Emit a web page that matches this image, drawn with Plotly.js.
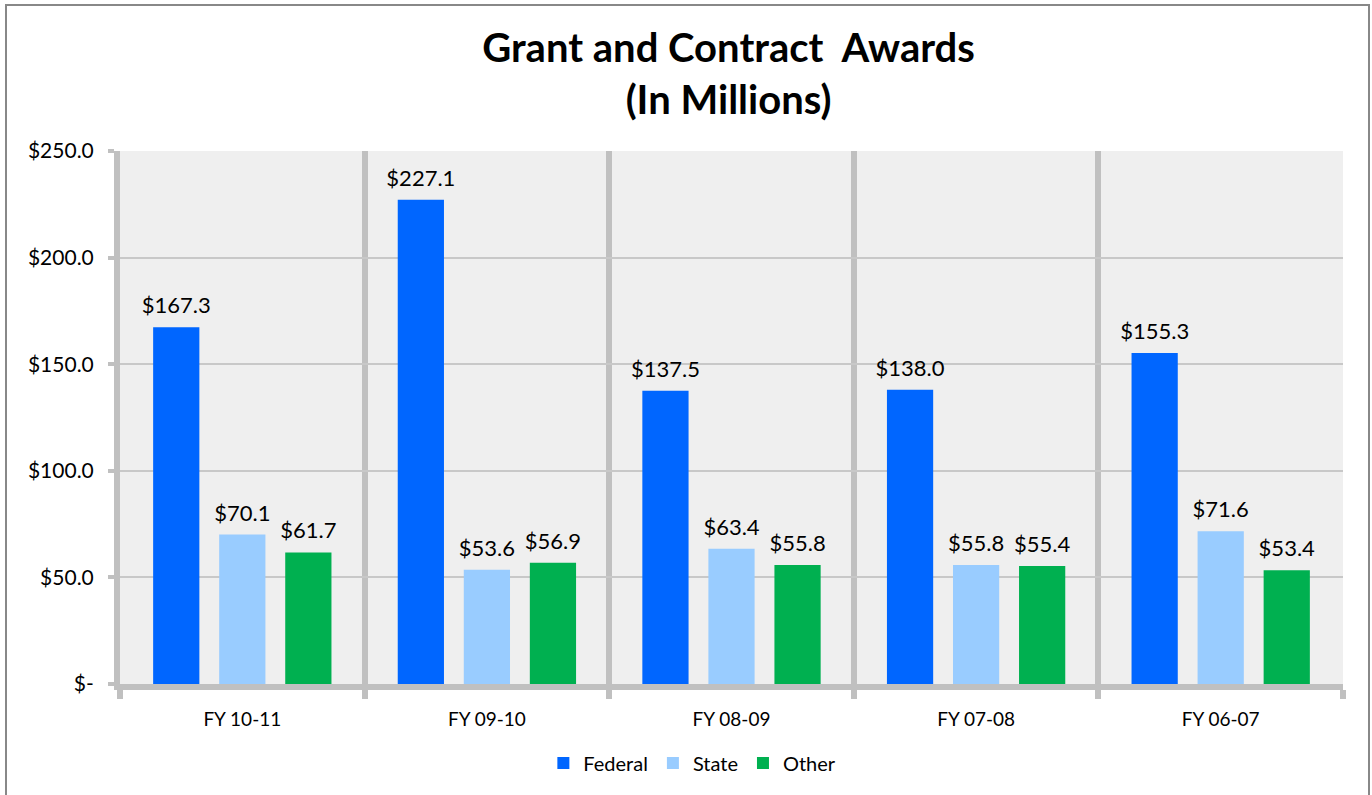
<!DOCTYPE html>
<html>
<head>
<meta charset="utf-8">
<script src="https://cdn.plot.ly/plotly-3.0.1.min.js"></script>
<style>html,body{margin:0;padding:0;background:#fff;}#chart{width:1372px;height:795px;}</style>
</head>
<body>
<div id="chart"></div>
<script>
const categories = ["FY 10-11", "FY 09-10", "FY 08-09", "FY 07-08", "FY 06-07"];
const federal = [167.3, 227.1, 137.5, 138.0, 155.3];
const state = [70.1, 53.6, 63.4, 55.8, 71.6];
const other = [61.7, 56.9, 55.8, 55.4, 53.4];
const yTickVals = [0, 50, 100, 150, 200, 250];
const yTickText = ["$-", "$50.0", "$100.0", "$150.0", "$200.0", "$250.0"];

const FONT = "Lato, 'Open Sans', sans-serif";
function bar(name, y, color) {
  return {
    type: "bar", name: name, x: categories, y: y,
    marker: {color: color},
    hoverinfo: "x+y"
  };
}
function labels(name, y) {
  return {
    type: "scatter", mode: "markers+text", name: name + " labels", x: categories, y: y,
    text: y.map(v => "$" + v.toFixed(1)),
    textposition: "top center",
    textfont: {family: FONT, size: 22, color: "#000"},
    marker: {size: 12, opacity: 0, color: "#fff"},
    showlegend: false, cliponaxis: false, hoverinfo: "skip"
  };
}
const data = [
  bar("Federal", federal, "#0066FF"), bar("State", state, "#99CCFF"), bar("Other", other, "#00B050"),
  labels("Federal", federal), labels("State", state), labels("Other", other)
];

const layout = {
  width: 1372, height: 795,
  margin: {l: 120, r: 29, t: 151, b: 111},
  paper_bgcolor: "#ffffff",
  plot_bgcolor: "#efefef",
  font: {family: FONT, size: 18, color: "#000"},
  title: {text: "<b>Grant and Contract  Awards<br>(In Millions)</b>", x: 0.531, xanchor: "center", y: 0.922, yanchor: "middle",
          font: {family: FONT, size: 40, color: "#000"}},
  barmode: "group",
  scattermode: "group",
  bargap: 0.19,
  scattergap: 0.19,
  bargroupgap: 0.30,
  showlegend: true,
  legend: {orientation: "h", x: 0.468, xanchor: "center", y: -0.148, yanchor: "middle",
           font: {family: FONT, size: 20}, itemwidth: 30, traceorder: "normal"},
  xaxis: {
    type: "category",
    tickson: "boundaries",
    showgrid: true, gridcolor: "#c0c0c0", gridwidth: 6,
    showline: true, linecolor: "#c0c0c0", linewidth: 6,
    ticks: "outside", ticklen: 9, tickwidth: 6, tickcolor: "#c0c0c0",
    tickfont: {family: FONT, size: 19},
    ticklabelstandoff: 13,
    zeroline: false
  },
  yaxis: {
    range: [0, 250],
    tickvals: yTickVals, ticktext: yTickText,
    showgrid: true, gridcolor: "#c8c8c8", gridwidth: 2,
    showline: true, linecolor: "#c0c0c0", linewidth: 6,
    ticks: "outside", ticklen: 6, tickwidth: 4, tickcolor: "#c0c0c0",
    tickfont: {family: FONT, size: 21},
    zeroline: false,
    ticklabelstandoff: 10
  },
  shapes: [{
    type: "rect", xref: "paper", yref: "paper",
    x0: (6 - 120) / 1223, x1: (1369 - 120) / 1223,
    y0: -0.3, y1: (684 - 5) / 533,
    line: {color: "#888888", width: 2}, fillcolor: "rgba(0,0,0,0)", layer: "above"
  }]
};

Plotly.newPlot("chart", data, layout, {displayModeBar: false, staticPlot: true});
</script>
</body>
</html>
